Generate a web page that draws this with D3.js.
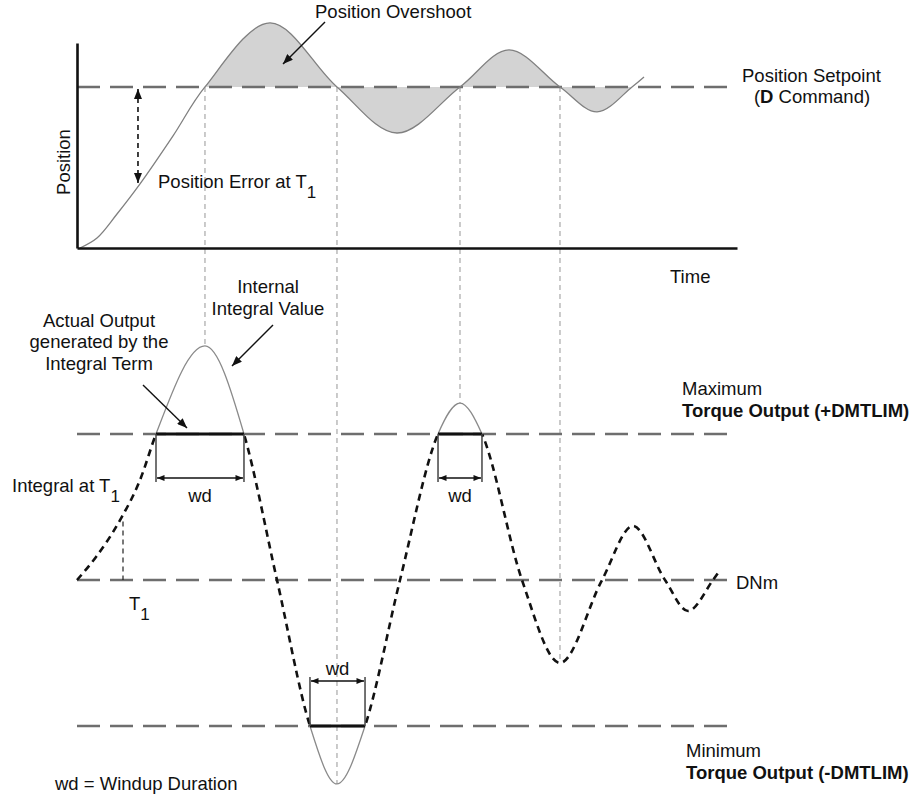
<!DOCTYPE html>
<html>
<head>
<meta charset="utf-8">
<script src="https://cdn.jsdelivr.net/npm/d3@7"></script>
<style>
  html, body { margin: 0; padding: 0; background: #fff; }
  svg { display: block; font-family: "Liberation Sans", Arial, Helvetica, sans-serif; }
  text { fill: #111; font-size: 18.5px; }
</style>
</head>
<body>
<svg width="921" height="798"></svg>
<script>
// time runs 0..100; position setpoint = 1; torque limits are +/-1 around DNm = 0

// position response (top panel)
const posTime  = [0.45, 3.03, 6.06, 9.55, 14.55, 19.39, 29.24, 39.39, 48.48, 58.03, 65.45, 73.18, 78.79, 84.09, 85.91];
const posValue = [0, 0.062, 0.211, 0.398, 0.696, 1.0, 1.398, 1.0, 0.714, 1.0, 1.23, 1.0, 0.845, 1.0, 1.062];
const setpoint = 1;
const overshootFrom = 19.39;
const overshootTo = 84.09;

// internal integral value (bottom panel), in units of DMTLIM
const intTime  = [0, 2.88, 6.52, 9.55, 11.97, 19.39, 25.30, 30.30, 35.30, 39.39, 43.64, 48.94,
                  54.70, 58.03, 61.36, 67.42, 73.18, 79.55, 84.24, 89.09, 92.58, 96.36, 97.12];
const intValue = [0, 0.158, 0.41, 0.685, 1.0, 1.603, 1.0, 0, -1.0, -1.397, -1.0, 0,
                  1.0, 1.212, 1.0, 0, -0.568, 0, 0.370, 0, -0.212, 0, 0.048];
const torqueLimit = 1;

// setpoint crossings carried down to the integral curve
const crossTime  = [19.39, 39.39, 58.03, 73.18];
const crossValue = [1.603, -1.397, 1.212, -0.568];

// windup intervals
const wdStart = [11.97, 35.30, 54.70];
const wdEnd   = [25.30, 43.64, 61.36];
const wdLevel = [1, -1, 1];

// T1 marks
const t1Time = 6.97, t1Value = 0.40;
const errTime = 9.24, errValue = 0.404;

const svg = d3.select('svg');

const x = d3.scaleLinear().domain([0, 100]).range([77, 737]);
const yPos = d3.scaleLinear().domain([0, 1.273]).range([248, 43]);
const yOut = d3.scaleLinear().domain([-torqueLimit, torqueLimit]).range([726, 434]);

const defs = svg.append('defs');
const addMarker = (id, w, h) => {
    defs.append('marker')
        .attr('id', id)
        .attr('viewBox', '0 0 10 8')
        .attr('refX', 10).attr('refY', 4)
        .attr('markerUnits', 'userSpaceOnUse')
        .attr('markerWidth', w).attr('markerHeight', h)
        .attr('orient', 'auto-start-reverse')
        .append('path')
        .attr('d', 'M0,0 L10,4 L0,8 Z')
        .attr('fill', '#111');
};
addMarker('head', 10, 8);
addMarker('headSmall', 8, 6);

const clip = (id, x0, y0, w, h) => defs.append('clipPath').attr('id', id)
    .append('rect').attr('x', x0).attr('y', y0).attr('width', w).attr('height', h);

clip('overshootClip', x(overshootFrom), 0, x(overshootTo) - x(overshootFrom), 300);
clip('bandClip', 0, yOut(torqueLimit), 921, yOut(-torqueLimit) - yOut(torqueLimit));
clip('aboveClip', 0, 0, 921, yOut(torqueLimit));
clip('belowClip', 0, yOut(-torqueLimit), 921, 798 - yOut(-torqueLimit));

// ---------- top panel ----------
const posIdx = d3.range(posTime.length);
const posCurve = d3.curveCatmullRom.alpha(0.5);

svg.append('path')
    .attr('clip-path', 'url(#overshootClip)')
    .attr('fill', '#d3d3d3')
    .attr('d', d3.area()
        .x(i => x(posTime[i]))
        .y0(yPos(setpoint))
        .y1(i => yPos(posValue[i]))
        .curve(posCurve)(posIdx));

// thin dashed drop lines from setpoint crossings
svg.append('g')
    .selectAll('line')
    .data(d3.range(crossTime.length))
    .join('line')
    .attr('x1', i => x(crossTime[i]))
    .attr('x2', i => x(crossTime[i]))
    .attr('y1', yPos(setpoint))
    .attr('y2', i => yOut(crossValue[i]))
    .attr('stroke', '#a8a8a8')
    .attr('stroke-width', 1.2)
    .attr('stroke-dasharray', '5,4');

svg.append('line')
    .attr('x1', x(0)).attr('x2', x(99.2))
    .attr('y1', yPos(setpoint)).attr('y2', yPos(setpoint))
    .attr('stroke', '#6e6e6e')
    .attr('stroke-width', 2.4)
    .attr('stroke-dasharray', '23,10');

svg.append('path')
    .attr('fill', 'none')
    .attr('stroke', '#808080')
    .attr('stroke-width', 1.3)
    .attr('d', d3.line()
        .x(i => x(posTime[i]))
        .y(i => yPos(posValue[i]))
        .curve(posCurve)(posIdx));

// axes without ticks
const axisX = svg.append('g')
    .attr('transform', `translate(0,${yPos(0)})`)
    .call(d3.axisBottom(x).tickValues([]).tickSizeOuter(0));
const axisY = svg.append('g')
    .attr('transform', `translate(${x(0)},0)`)
    .call(d3.axisLeft(yPos).tickValues([]).tickSizeOuter(0));
[axisX, axisY].forEach(a => a.select('.domain').attr('stroke', '#111').attr('stroke-width', 2.6));

// position error arrow
svg.append('line')
    .attr('x1', x(errTime)).attr('x2', x(errTime))
    .attr('y1', yPos(setpoint) + 2).attr('y2', yPos(errValue))
    .attr('stroke', '#111')
    .attr('stroke-width', 1.6)
    .attr('stroke-dasharray', '5,4')
    .attr('marker-start', 'url(#head)')
    .attr('marker-end', 'url(#head)');

// overshoot pointer
svg.append('line')
    .attr('x1', x(37.58)).attr('y1', yPos(1.404))
    .attr('x2', x(31.21)).attr('y2', yPos(1.143))
    .attr('stroke', '#111').attr('stroke-width', 1.4)
    .attr('marker-end', 'url(#head)');

// ---------- bottom panel ----------
const levelLine = (v) => svg.append('line')
    .attr('x1', x(0)).attr('x2', x(98.5))
    .attr('y1', yOut(v)).attr('y2', yOut(v))
    .attr('stroke', '#6e6e6e')
    .attr('stroke-width', 2.4)
    .attr('stroke-dasharray', '23,10');
levelLine(torqueLimit);
levelLine(0);
levelLine(-torqueLimit);

const intIdx = d3.range(intTime.length);
const intLine = d3.line()
    .x(i => x(intTime[i]))
    .y(i => yOut(intValue[i]))
    .curve(d3.curveMonotoneX);

// internal integral beyond the limits
['aboveClip', 'belowClip'].forEach(c => {
    svg.append('path')
        .attr('clip-path', `url(#${c})`)
        .attr('fill', 'none')
        .attr('stroke', '#8a8a8a')
        .attr('stroke-width', 1.3)
        .attr('d', intLine(intIdx));
});

// actual output (clamped)
svg.append('path')
    .attr('clip-path', 'url(#bandClip)')
    .attr('fill', 'none')
    .attr('stroke', '#111')
    .attr('stroke-width', 2.6)
    .attr('stroke-dasharray', '7,5')
    .attr('d', intLine(intIdx));

// windup brackets
const wd = svg.append('g')
    .selectAll('g')
    .data(d3.range(wdStart.length))
    .join('g');

wd.append('line')
    .attr('x1', i => x(wdStart[i])).attr('x2', i => x(wdEnd[i]))
    .attr('y1', i => yOut(wdLevel[i] * torqueLimit)).attr('y2', i => yOut(wdLevel[i] * torqueLimit))
    .attr('stroke', '#111').attr('stroke-width', 3.2);

[wdStart, wdEnd].forEach(arr => {
    wd.append('line')
        .attr('x1', i => x(arr[i])).attr('x2', i => x(arr[i]))
        .attr('y1', i => yOut(wdLevel[i] * torqueLimit))
        .attr('y2', i => yOut(wdLevel[i] * torqueLimit) + (wdLevel[i] > 0 ? 48 : -49))
        .attr('stroke', '#444').attr('stroke-width', 1.5);
});

wd.append('line')
    .attr('x1', i => x(wdStart[i]) + 1).attr('x2', i => x(wdEnd[i]) - 1)
    .attr('y1', i => yOut(wdLevel[i] * torqueLimit) + (wdLevel[i] > 0 ? 44 : -45))
    .attr('y2', i => yOut(wdLevel[i] * torqueLimit) + (wdLevel[i] > 0 ? 44 : -45))
    .attr('stroke', '#111').attr('stroke-width', 1.4)
    .attr('marker-start', 'url(#headSmall)')
    .attr('marker-end', 'url(#headSmall)');

wd.append('text')
    .attr('x', i => (x(wdStart[i]) + x(wdEnd[i])) / 2)
    .attr('y', i => yOut(wdLevel[i] * torqueLimit) + (wdLevel[i] > 0 ? 68 : -51))
    .attr('text-anchor', 'middle')
    .text('wd');

// T1 tick
svg.append('line')
    .attr('x1', x(t1Time)).attr('x2', x(t1Time))
    .attr('y1', yOut(t1Value)).attr('y2', yOut(0))
    .attr('stroke', '#222').attr('stroke-width', 1.2)
    .attr('stroke-dasharray', '5,4');

// pointers in bottom panel
svg.append('line')
    .attr('x1', x(29.70)).attr('y1', yOut(1.747))
    .attr('x2', x(23.48)).attr('y2', yOut(1.466))
    .attr('stroke', '#111').attr('stroke-width', 1.4)
    .attr('marker-end', 'url(#head)');
svg.append('line')
    .attr('x1', x(10.0)).attr('y1', yOut(1.336))
    .attr('x2', x(16.67)).attr('y2', yOut(1.041))
    .attr('stroke', '#111').attr('stroke-width', 1.4)
    .attr('marker-end', 'url(#head)');

// ---------- labels ----------
const label = (tx, ty, str, anchor = 'start', weight = 'normal') => svg.append('text')
    .attr('x', tx).attr('y', ty)
    .attr('text-anchor', anchor)
    .attr('font-weight', weight)
    .text(str);

const subLabel = (tx, ty, str, sub, anchor = 'start') => {
    const t = svg.append('text').attr('x', tx).attr('y', ty).attr('text-anchor', anchor);
    t.append('tspan').text(str);
    t.append('tspan').attr('dy', 10).attr('font-size', 17).text(sub);
    return t;
};

label(315, 18, 'Position Overshoot');
svg.append('text')
    .attr('transform', 'translate(70,162) rotate(-90)')
    .attr('text-anchor', 'middle')
    .text('Position');
subLabel(158, 188, 'Position Error at T', '1');
label(670, 283, 'Time');
label(742, 82, 'Position Setpoint');
const dc = svg.append('text').attr('x', 812).attr('y', 103).attr('text-anchor', 'middle');
dc.append('tspan').text('(');
dc.append('tspan').attr('font-weight', 'bold').text('D');
dc.append('tspan').text(' Command)');

label(268, 293, 'Internal', 'middle');
label(268, 315, 'Integral Value', 'middle');
label(99, 327, 'Actual Output', 'middle');
label(99, 348, 'generated by the', 'middle');
label(99, 370, 'Integral Term', 'middle');

label(682, 395, 'Maximum');
label(682, 417, 'Torque Output (+DMTLIM)', 'start', 'bold');
subLabel(12, 492, 'Integral at T', '1');
label(736, 589, 'DNm');
subLabel(129, 610, 'T', '1');
label(686, 757, 'Minimum');
label(686, 779, 'Torque Output (-DMTLIM)', 'start', 'bold');
label(55, 790, 'wd = Windup Duration');
</script>
</body>
</html>
